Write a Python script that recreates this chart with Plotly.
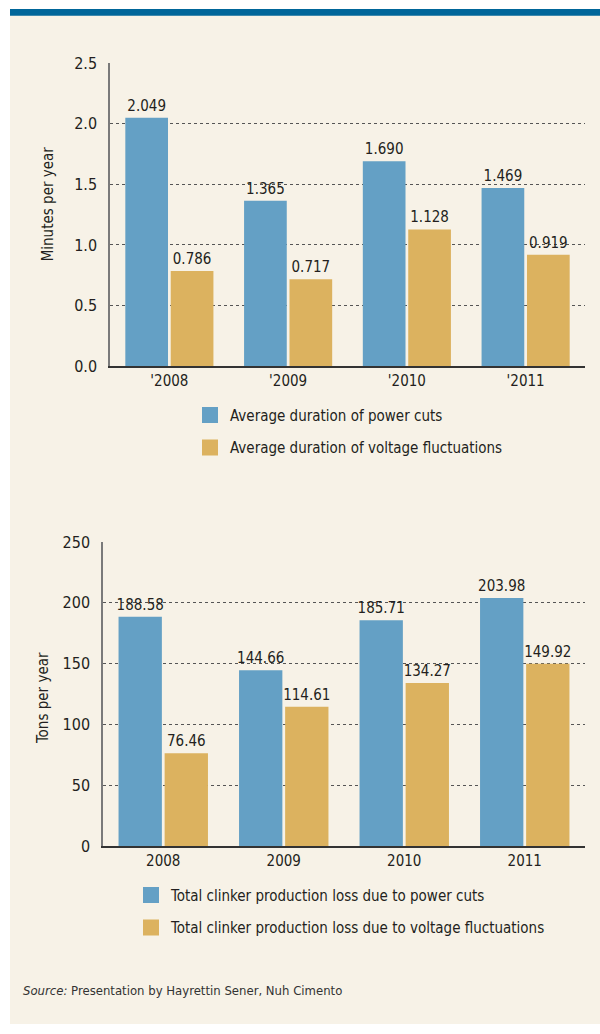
"""Power cuts and voltage fluctuations at Nuh Cimento, 2008-2011."""

import plotly.graph_objects as go

W, H = 600, 1034
BLUE = "#64a0c5"
GOLD = "#dcb25f"
CREAM = "#f7f2e7"
BAND = "#00669a"
INK = "#231f20"
FONT = "Liberation Sans Narrow, DejaVu Sans Condensed, Roboto Condensed, Roboto, sans-serif"

# top panel: minutes per year
dur_years = ["'2008", "'2009", "'2010", "'2011"]
dur_power_cuts = [2.049, 1.365, 1.690, 1.469]
dur_voltage = [0.786, 0.717, 1.128, 0.919]
dur_names = ["Average duration of power cuts",
             "Average duration of voltage fluctuations"]

# bottom panel: tons per year
loss_years = ["2008", "2009", "2010", "2011"]
loss_power_cuts = [188.58, 144.66, 185.71, 203.98]
loss_voltage = [76.46, 114.61, 134.27, 149.92]
loss_names = ["Total clinker production loss due to power cuts",
              "Total clinker production loss due to voltage fluctuations"]


def px_x(p):
    return p / W


def px_y(p):
    return 1 - p / H


fig = go.Figure()

panels = [
    (dur_years, dur_power_cuts, dur_voltage, dur_names, "x", "y", "legend", "%{y:.3f}"),
    (loss_years, loss_power_cuts, loss_voltage, loss_names, "x2", "y2", "legend2", "%{y:.2f}"),
]
for years, a, b, names, xa, ya, leg, tmpl in panels:
    for vals, color, name in [(a, BLUE, names[0]), (b, GOLD, names[1])]:
        fig.add_trace(go.Bar(
            x=years, y=vals, marker_color=color, marker_line_width=0,
            texttemplate=tmpl, textposition="outside", cliponaxis=False,
            constraintext="none",
            textfont=dict(size=15, color=INK, family=FONT),
            xaxis=xa, yaxis=ya, showlegend=False, legendgroup=name,
        ))
        # larger square swatch for the legend
        fig.add_trace(go.Scatter(
            x=[None], y=[None], mode="markers", name=name, legend=leg,
            marker=dict(symbol="square", size=17, color=color),
            xaxis=xa, yaxis=ya, legendgroup=name,
        ))

axis_font = dict(size=16, color=INK, family=FONT)
yaxis_common = dict(
    showgrid=True, gridcolor="#555555", griddash="dot", gridwidth=1,
    showline=True, linecolor="#7a7a7a", linewidth=1.5,
    zeroline=False, ticks="", tickfont=axis_font, ticklabelstandoff=8,
    fixedrange=True,
)
xaxis_common = dict(
    showline=True, linecolor="#333333", linewidth=2, ticks="",
    tickfont=dict(size=15, color=INK, family=FONT), showgrid=False, fixedrange=True,
)
legend_common = dict(
    xanchor="left", yanchor="top", bgcolor="rgba(0,0,0,0)",
    font=dict(size=15, color=INK, family=FONT), tracegroupgap=10, itemclick=False,
)
title_font = dict(size=15, color=INK, family=FONT)

fig.update_layout(
    width=W, height=H,
    margin=dict(l=0, r=0, t=0, b=0),
    paper_bgcolor="white", plot_bgcolor="rgba(0,0,0,0)",
    font=dict(family=FONT, color=INK, size=14),
    barmode="group", bargap=0.235, bargroupgap=0.06,
    xaxis=dict(domain=[px_x(110), px_x(585)], anchor="y", **xaxis_common),
    yaxis=dict(domain=[px_y(364), px_y(55)], anchor="x", range=[0, 2.5],
               dtick=0.5, tickformat=".1f", **yaxis_common),
    xaxis2=dict(domain=[px_x(103), px_x(585)], anchor="y2", **xaxis_common),
    yaxis2=dict(domain=[px_y(853), px_y(543)], anchor="x2", range=[0, 250],
                dtick=50, **yaxis_common),
    legend=dict(x=px_x(190), y=px_y(397), **legend_common),
    legend2=dict(x=px_x(131), y=px_y(886), **legend_common),
    shapes=[
        dict(type="rect", xref="paper", yref="paper", x0=px_x(10), x1=1,
             y0=0, y1=1, fillcolor=CREAM, line_width=0, layer="below"),
        dict(type="rect", xref="paper", yref="paper", x0=px_x(10), x1=1,
             y0=px_y(7), y1=1, fillcolor=BAND, line_width=0, layer="below"),
    ],
    annotations=[
        dict(text="Minutes per year", textangle=-90, xref="paper", yref="paper",
             x=px_x(48), y=px_y(199), xanchor="center", yanchor="middle",
             showarrow=False, font=title_font),
        dict(text="Tons per year", textangle=-90, xref="paper", yref="paper",
             x=px_x(43), y=px_y(702), xanchor="center", yanchor="middle",
             showarrow=False, font=title_font),
        dict(text="<i>Source:</i> Presentation by Hayrettin Sener, Nuh Cimento",
             xref="paper", yref="paper", x=px_x(21), y=px_y(1000),
             xanchor="left", yanchor="middle", showarrow=False,
             font=dict(size=13, color="#333333", family=FONT)),
    ],
)

# pin the 600x1034 figure to the window corner, no page margin or scrollbars
pin = (
    "document.body.style.margin='0';"
    "document.documentElement.style.overflow='hidden';"
    "var gd=document.getElementById('{plot_id}');"
    "gd.style.position='fixed';gd.style.top='0';gd.style.left='0';"
)
fig.write_html("out.html", post_script=pin, config={"displayModeBar": False})
